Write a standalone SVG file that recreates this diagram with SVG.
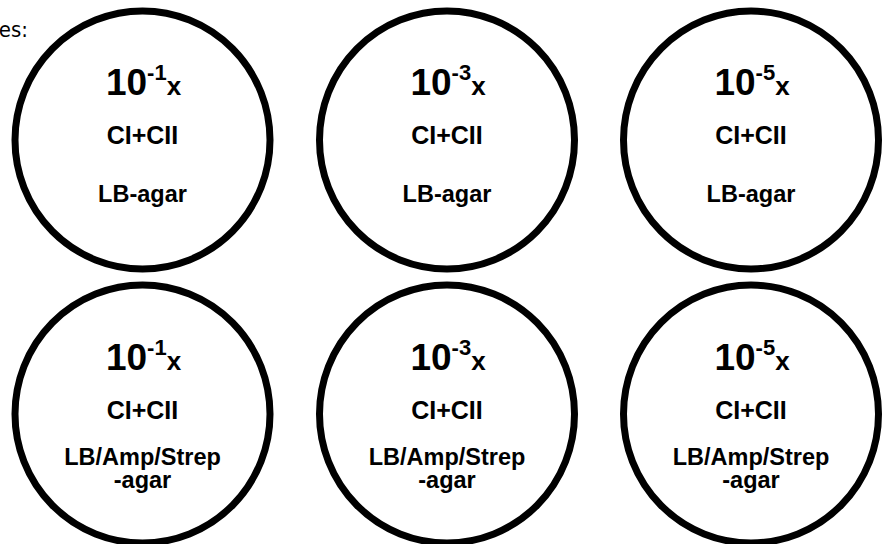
<svg xmlns="http://www.w3.org/2000/svg" width="884" height="544" viewBox="0 0 884 544">
<style>
.plate{fill:#fff;stroke:#000;stroke-width:7}
.t{font-family:"Liberation Sans",Arial,sans-serif;font-weight:bold;fill:#000;text-anchor:middle}
.big{font-size:37px}
.sup{font-size:22px}
.xx{font-size:26px}
.mid{font-size:25px}
.lab{font-size:23.5px}
.note{font-family:"DejaVu Sans Condensed","DejaVu Sans",Verdana,sans-serif;font-size:22px;fill:#000;text-anchor:end}
</style>
<rect width="884" height="544" fill="#fff"/>
<text class="note" x="28" y="37">es:</text>
<g id="plate-lb-1">
<ellipse class="plate" cx="142.5" cy="140" rx="127.5" ry="129"/>
<text class="t" x="143.5" y="95"><tspan class="big">10</tspan><tspan class="sup" dy="-15">-1</tspan><tspan class="xx" dy="15">x</tspan></text>
<text class="t mid" x="142.5" y="144">CI+CII</text>
<text class="t lab" x="142.5" y="202">LB-agar</text>
</g>
<g id="plate-lb-3">
<ellipse class="plate" cx="447" cy="140" rx="127.5" ry="129"/>
<text class="t" x="448" y="95"><tspan class="big">10</tspan><tspan class="sup" dy="-15">-3</tspan><tspan class="xx" dy="15">x</tspan></text>
<text class="t mid" x="447" y="144">CI+CII</text>
<text class="t lab" x="447" y="202">LB-agar</text>
</g>
<g id="plate-lb-5">
<ellipse class="plate" cx="751" cy="140" rx="127.5" ry="129"/>
<text class="t" x="752" y="95"><tspan class="big">10</tspan><tspan class="sup" dy="-15">-5</tspan><tspan class="xx" dy="15">x</tspan></text>
<text class="t mid" x="751" y="144">CI+CII</text>
<text class="t lab" x="751" y="202">LB-agar</text>
</g>
<g id="plate-amp-1">
<ellipse class="plate" cx="142.5" cy="414" rx="127.5" ry="129"/>
<text class="t" x="143.5" y="370"><tspan class="big">10</tspan><tspan class="sup" dy="-15">-1</tspan><tspan class="xx" dy="15">x</tspan></text>
<text class="t mid" x="142.5" y="419">CI+CII</text>
<text class="t lab" x="142.5" y="465">LB/Amp/Strep</text>
<text class="t lab" x="142.5" y="488">-agar</text>
</g>
<g id="plate-amp-3">
<ellipse class="plate" cx="447" cy="414" rx="127.5" ry="129"/>
<text class="t" x="448" y="370"><tspan class="big">10</tspan><tspan class="sup" dy="-15">-3</tspan><tspan class="xx" dy="15">x</tspan></text>
<text class="t mid" x="447" y="419">CI+CII</text>
<text class="t lab" x="447" y="465">LB/Amp/Strep</text>
<text class="t lab" x="447" y="488">-agar</text>
</g>
<g id="plate-amp-5">
<ellipse class="plate" cx="751" cy="414" rx="127.5" ry="129"/>
<text class="t" x="752" y="370"><tspan class="big">10</tspan><tspan class="sup" dy="-15">-5</tspan><tspan class="xx" dy="15">x</tspan></text>
<text class="t mid" x="751" y="419">CI+CII</text>
<text class="t lab" x="751" y="465">LB/Amp/Strep</text>
<text class="t lab" x="751" y="488">-agar</text>
</g>
</svg>
